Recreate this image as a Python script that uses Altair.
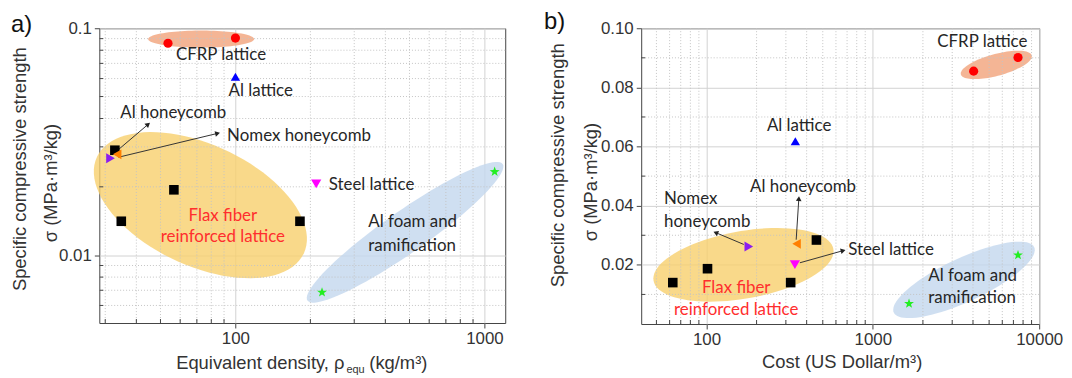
import math
import altair as alt
import pandas as pd

# ---------------- series definitions ----------------
SERIES = ["CFRP lattice", "Al lattice", "Flax fiber reinforced lattice",
          "Al honeycomb", "Nomex honeycomb", "Steel lattice", "Al foam and ramification"]
SERIES_COLORS = ["#ff0000", "#0000ff", "#000000", "#ff7f00", "#8a1cf0", "#ff00ff", "#22ee22"]
STAR = ("M0,-1L0.235,-0.324L0.951,-0.309L0.38,0.124L0.588,0.809L0,0.4"
        "L-0.588,0.809L-0.38,0.124L-0.951,-0.309L-0.235,-0.324Z")
SERIES_SHAPES = ["circle", "triangle-up", "square", "triangle-left", "triangle-right", "triangle-down", STAR]
SERIES_SIZES = [85, 110, 75, 105, 105, 105, 210]

# ---------------- panel a values ----------------
A_X = [[53.6, 100.0], [100.0], [32.8, 56.6, 34.8, 181.6], [33.5], [31.5], [211.0], [222.7, 1099.0]]
A_Y = [[0.0859, 0.0905], [0.0611], [0.0290, 0.0194, 0.0141, 0.0141], [0.0278], [0.0267], [0.0206], [0.00685, 0.0233]]

A_LABEL_TEXT = ["CFRP lattice", "Al lattice", "Al honeycomb", "Nomex honeycomb", "Steel lattice", "Al foam and", "ramification"]
A_LABEL_X = [57.7, 93.8, 34.5, 92.6, 237.0, 341.8, 341.8]
A_LABEL_Y = [0.0762, 0.0528, 0.0421, 0.0336, 0.0204, 0.01402, 0.01102]
A_FLAX_TEXT = ["Flax fiber", "reinforced lattice"]
A_FLAX_X = [89.0, 89.0]
A_FLAX_Y = [0.0149, 0.0120]

A_ARROW_X1 = [33.3, 33.9]
A_ARROW_Y1 = [0.0287, 0.0270]
A_ARROW_X2 = [44.6, 84.8]
A_ARROW_Y2 = [0.0377, 0.0344]

A_ELL_CX = [72.8, 72.3, 480.0]
A_ELL_CY = [0.0896, 0.0166, 0.01261]
A_ELL_A = [53.4, 115.0, 120.0]
A_ELL_B = [8.6, 61.0, 21.0]
A_ELL_ANG = [0.0, -25.0, 35.0]
A_ELL_COLOR = ["#f1a27a", "#f8d06d", "#c3d7ee"]

A_XDOM = [28.4, 1212.0]
A_YDOM = [0.00502, 0.1]
A_XMAJOR = [100, 1000]
A_XMINOR = [30, 40, 50, 60, 70, 80, 90, 200, 300, 400, 500, 600, 700, 800, 900]
A_YMAJOR = [0.01, 0.1]
A_YMINOR = [0.006, 0.007, 0.008, 0.009, 0.02, 0.03, 0.04, 0.05, 0.06, 0.07, 0.08, 0.09]

# ---------------- panel b values ----------------
B_X = [[4036.0, 7459.0], [342.0], [458.0, 101.4, 62.7, 320.6], [348.0], [179.6], [340.0], [1650.0, 7459.0]]
B_Y = [[0.0855, 0.0901], [0.0618], [0.0284, 0.0187, 0.0140, 0.0140], [0.0271], [0.0262], [0.0201], [0.0069, 0.0233]]

B_LABEL_TEXT = ["CFRP lattice", "Al lattice", "Al honeycomb", "Nomex", "honeycomb", "Steel lattice", "Al foam and", "ramification"]
B_LABEL_X = [2441.0, 230.8, 182.8, 55.6, 55.6, 711.0, 2156.0, 2156.0]
B_LABEL_Y = [0.09522, 0.0670, 0.0464, 0.04237, 0.03458, 0.02508, 0.01637, 0.00864]
B_FLAX_TEXT = ["Flax fiber", "reinforced lattice"]
B_FLAX_X = [150.9, 150.9]
B_FLAX_Y = [0.0122, 0.00485]

B_ARROW_X1 = [167.6, 346.0, 364.0]
B_ARROW_Y1 = [0.0269, 0.0285, 0.0207]
B_ARROW_X2 = [113.6, 359.0, 662.7]
B_ARROW_Y2 = [0.0309, 0.0424, 0.0248]

B_ELL_CX = [5525.0, 166.8, 3531.0]
B_ELL_CY = [0.0876, 0.0200, 0.01492]
B_ELL_A = [37.0, 92.0, 78.0]
B_ELL_B = [11.0, 34.0, 22.0]
B_ELL_ANG = [15.0, 10.0, 25.0]
B_ELL_COLOR = ["#f1a27a", "#f8d06d", "#c3d7ee"]

B_XDOM = [40.5, 10000.0]
B_YDOM = [0.0, 0.1]
B_XMAJOR = [100, 1000, 10000]
B_XMINOR = [50, 60, 70, 80, 90, 200, 300, 400, 500, 600, 700, 800, 900,
            2000, 3000, 4000, 5000, 6000, 7000, 8000, 9000]
B_YMAJOR = [0.02, 0.04, 0.06, 0.08, 0.10]
B_YMINOR = [0.01, 0.03, 0.05, 0.07, 0.09]

# ---------------- text ----------------
Y_TITLE_1 = "Specific compressive strength"
Y_TITLE_2 = "σ (MPa·m³/kg)"
A_XT_1 = "Equivalent density, ρ"
A_XT_SUB = "equ"
A_XT_3 = "(kg/m³)"
B_XT = "Cost (US Dollar/m³)"
PANEL_LABELS = ["a)", "b)"]

AXIS_FONT = "Liberation Sans"
NOTE_FONT = "Lato"


def make_tf(xdom, ydom, W, H, ylog):
    lx0, lx1 = math.log10(xdom[0]), math.log10(xdom[1])
    fy = (lambda v: math.log10(v)) if ylog else (lambda v: v)
    y0, y1 = fy(ydom[0]), fy(ydom[1])

    def to_px(x, y):
        return ((math.log10(x) - lx0) / (lx1 - lx0) * W,
                H - (fy(y) - y0) / (y1 - y0) * H)

    def from_px(px, py):
        x = 10 ** (lx0 + px / W * (lx1 - lx0))
        v = y0 + (H - py) / H * (y1 - y0)
        return x, (10 ** v if ylog else v)
    return to_px, from_px


def txt(text, x, y, size, font, angle=0, align="center", baseline="alphabetic", color="#222"):
    return alt.Chart(pd.DataFrame({"t": [text]})).mark_text(
        align=align, baseline=baseline, fontSize=size, font=font, angle=angle, color=color
    ).encode(x=alt.value(x), y=alt.value(y), text="t:N")


def build_panel(W, H, xdom, ydom, ylog, xmaj, xmin, ymaj, ymin, yfmt,
                sx, sy, ltext, lx, ly, ftext, fx, fy,
                ax1, ay1, ax2, ay2, ecx, ecy, ea, eb, eang, ecol):
    to_px, from_px = make_tf(xdom, ydom, W, H, ylog)
    xs = alt.Scale(type="log", domain=xdom, nice=False)
    ys = alt.Scale(type="log" if ylog else "linear", domain=ydom, nice=False, zero=False)
    common = dict(title=None, grid=True, gridColor="#d2d2d2", gridWidth=1, domain=False,
                  tickSize=5, tickColor="#444", labelFont=AXIS_FONT, labelFontSize=17,
                  labelColor="#333", labelPadding=3)
    xaxis = alt.Axis(values=xmaj, format="~g", labelFlush=False, **common)
    yaxis = alt.Axis(values=ymaj, format=yfmt, **common)

    def X(f):
        return alt.X(f + ":Q", scale=xs, axis=xaxis)

    def Y(f):
        return alt.Y(f + ":Q", scale=ys, axis=yaxis)

    layers = []
    # ellipses (annotation shapes)
    for cx, cy, a, b, ang, col in zip(ecx, ecy, ea, eb, eang, ecol):
        pcx, pcy = to_px(cx, cy)
        th = math.radians(ang)
        rows = []
        n = 90
        for i in range(n + 1):
            t = 2 * math.pi * i / n
            ex, ey = a * math.cos(t), b * math.sin(t)
            dx = ex * math.cos(th) - ey * math.sin(th)
            dy = -(ex * math.sin(th) + ey * math.cos(th))
            x, y = from_px(pcx + dx, pcy + dy)
            rows.append({"x": x, "y": y, "i": i})
        layers.append(alt.Chart(pd.DataFrame(rows)).mark_line(
            fill=col, fillOpacity=0.8, strokeOpacity=0, strokeWidth=0
        ).encode(x=X("x"), y=Y("y"), order="i:Q"))

    # minor dotted grid
    layers.append(alt.Chart(pd.DataFrame({"x": xmin})).mark_rule(
        color="#c4c4c4", strokeDash=[1, 2], strokeWidth=1).encode(x=X("x")))
    layers.append(alt.Chart(pd.DataFrame({"y": ymin})).mark_rule(
        color="#c4c4c4", strokeDash=[1, 2], strokeWidth=1).encode(y=Y("y")))
    # inner minor ticks
    layers.append(alt.Chart(pd.DataFrame({"x": xmin})).mark_rule(
        color="#444", strokeWidth=1).encode(x=X("x"), y=alt.value(H), y2=alt.value(H - 4)))
    layers.append(alt.Chart(pd.DataFrame({"y": ymin})).mark_rule(
        color="#444", strokeWidth=1).encode(y=Y("y"), x=alt.value(0), x2=alt.value(4)))

    # arrows
    arows = []
    for x1, y1, x2, y2 in zip(ax1, ay1, ax2, ay2):
        p1 = to_px(x1, y1)
        p2 = to_px(x2, y2)
        ang = math.degrees(math.atan2(p2[0] - p1[0], -(p2[1] - p1[1]))) % 360
        arows.append({"x1": x1, "y1": y1, "x2": x2, "y2": y2, "ang": ang})
    adf = pd.DataFrame(arows)
    layers.append(alt.Chart(adf).mark_rule(color="#333", strokeWidth=1).encode(
        x=X("x1"), y=Y("y1"), x2="x2:Q", y2="y2:Q"))
    layers.append(alt.Chart(adf).mark_point(shape="triangle-up", filled=True, size=32,
                                            color="#222", opacity=1).encode(
        x=X("x2"), y=Y("y2"), angle=alt.Angle("ang:Q", scale=None)))

    # data points
    prow = []
    for s, xs_, ys_ in zip(SERIES, sx, sy):
        for x, y in zip(xs_, ys_):
            prow.append({"series": s, "x": x, "y": y})
    pdf = pd.DataFrame(prow)
    layers.append(alt.Chart(pdf).mark_point(filled=True, opacity=1, strokeWidth=0).encode(
        x=X("x"), y=Y("y"),
        color=alt.Color("series:N", scale=alt.Scale(domain=SERIES, range=SERIES_COLORS), legend=None),
        shape=alt.Shape("series:N", scale=alt.Scale(domain=SERIES, range=SERIES_SHAPES), legend=None),
        size=alt.Size("series:N", scale=alt.Scale(domain=SERIES, range=SERIES_SIZES), legend=None),
    ))

    # labels
    layers.append(alt.Chart(pd.DataFrame({"x": lx, "y": ly, "t": ltext})).mark_text(
        align="left", baseline="middle", font=NOTE_FONT, fontSize=17, color="#262626"
    ).encode(x=X("x"), y=Y("y"), text="t:N"))
    layers.append(alt.Chart(pd.DataFrame({"x": fx, "y": fy, "t": ftext})).mark_text(
        align="center", baseline="middle", font=NOTE_FONT, fontSize=17, color="#ff2e2e"
    ).encode(x=X("x"), y=Y("y"), text="t:N"))
    return layers


AW, AH = 409, 297
BW, BH = 401, 298

a_layers = build_panel(AW, AH, A_XDOM, A_YDOM, True, A_XMAJOR, A_XMINOR, A_YMAJOR, A_YMINOR, "~g",
                       A_X, A_Y, A_LABEL_TEXT, A_LABEL_X, A_LABEL_Y, A_FLAX_TEXT, A_FLAX_X, A_FLAX_Y,
                       A_ARROW_X1, A_ARROW_Y1, A_ARROW_X2, A_ARROW_Y2,
                       A_ELL_CX, A_ELL_CY, A_ELL_A, A_ELL_B, A_ELL_ANG, A_ELL_COLOR)
a_layers += [
    txt(Y_TITLE_1, -80, 142, 18.5, AXIS_FONT, angle=270, baseline="middle", color="#333"),
    txt(Y_TITLE_2, -49, 156, 18.5, AXIS_FONT, angle=270, baseline="middle", color="#333"),
    txt(A_XT_1, 247, AH + 46, 18.5, AXIS_FONT, align="right", color="#333"),
    txt(A_XT_SUB, 249, AH + 50, 11, AXIS_FONT, align="left", color="#333"),
    txt(A_XT_3, 272, AH + 46, 18.5, AXIS_FONT, align="left", color="#333"),
    txt(PANEL_LABELS[0], -89, -15, 24, AXIS_FONT, align="left", baseline="top", color="#111"),
]
panel_a = alt.layer(*a_layers).properties(width=AW, height=AH)

b_layers = build_panel(BW, BH, B_XDOM, B_YDOM, False, B_XMAJOR, B_XMINOR, B_YMAJOR, B_YMINOR, ".2f",
                       B_X, B_Y, B_LABEL_TEXT, B_LABEL_X, B_LABEL_Y, B_FLAX_TEXT, B_FLAX_X, B_FLAX_Y,
                       B_ARROW_X1, B_ARROW_Y1, B_ARROW_X2, B_ARROW_Y2,
                       B_ELL_CX, B_ELL_CY, B_ELL_A, B_ELL_B, B_ELL_ANG, B_ELL_COLOR)
b_layers += [
    txt(Y_TITLE_1, -83.5, 138, 18.5, AXIS_FONT, angle=270, baseline="middle", color="#333"),
    txt(Y_TITLE_2, -51, 155, 18.5, AXIS_FONT, angle=270, baseline="middle", color="#333"),
    txt(B_XT, 202.5, BH + 44, 18.5, AXIS_FONT, align="center", color="#333"),
    txt(PANEL_LABELS[1], -98, -18, 24, AXIS_FONT, align="left", baseline="top", color="#111"),
]
panel_b = alt.layer(*b_layers).properties(width=BW, height=BH)

chart = alt.hconcat(panel_a, panel_b, spacing=37).properties(
    padding={"left": 2, "top": 0, "right": 0, "bottom": 0}
).configure_view(stroke="#444", strokeWidth=1)

chart.save("out.html", embed_options={"renderer": "svg", "actions": False})
